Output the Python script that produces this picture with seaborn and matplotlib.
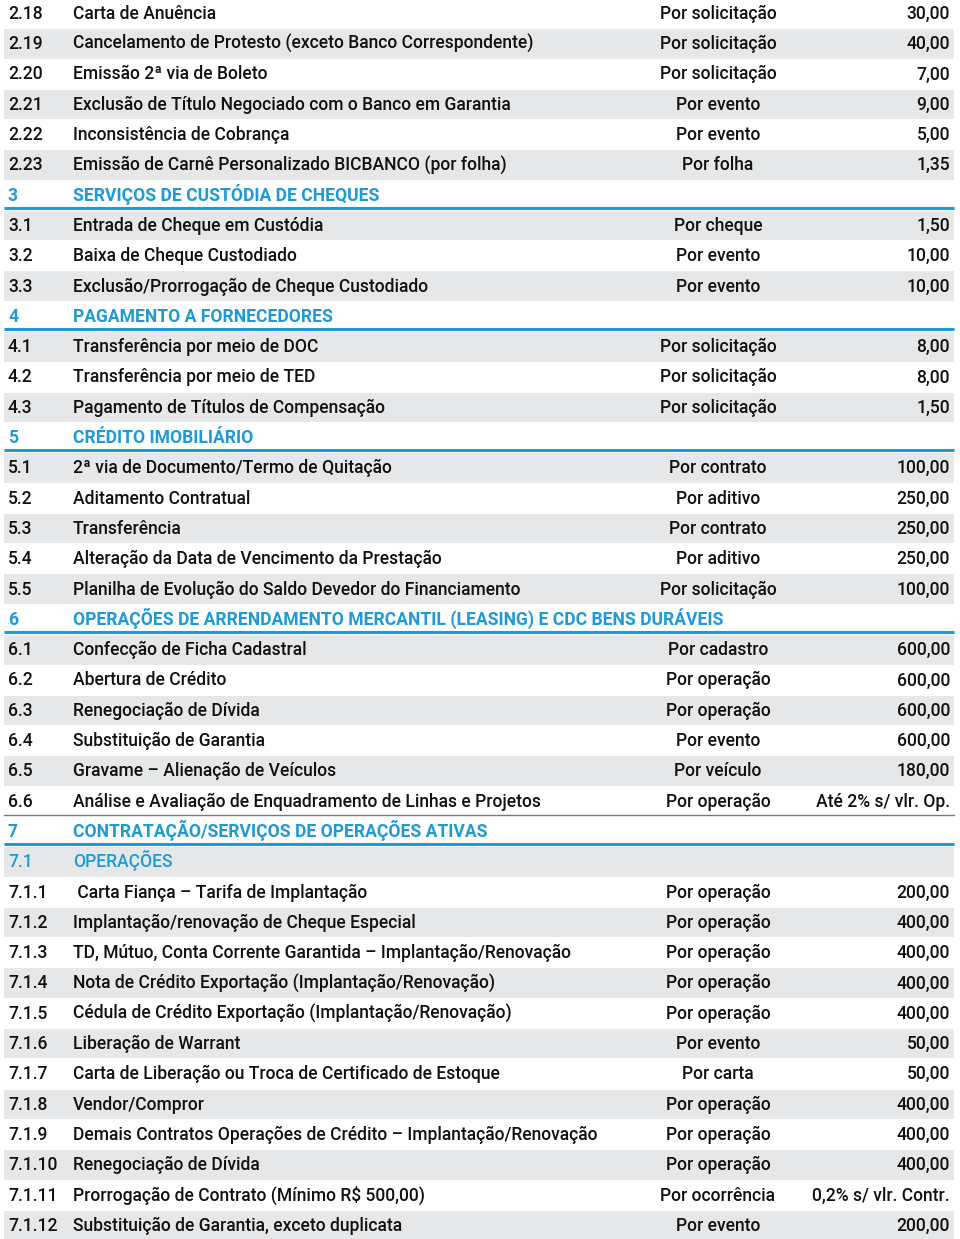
import matplotlib
matplotlib.use("Agg")
import matplotlib.pyplot as plt
import seaborn as sns
import pandas as pd

codes = ["2.18", "2.19", "2.20", "2.21", "2.22", "2.23",
         "3", "3.1", "3.2", "3.3",
         "4", "4.1", "4.2", "4.3",
         "5", "5.1", "5.2", "5.3", "5.4", "5.5",
         "6", "6.1", "6.2", "6.3", "6.4", "6.5", "6.6",
         "7", "7.1", "7.1.1", "7.1.2", "7.1.3", "7.1.4", "7.1.5", "7.1.6",
         "7.1.7", "7.1.8", "7.1.9", "7.1.10", "7.1.11", "7.1.12"]

descriptions = [
    "Carta de Anuência",
    "Cancelamento de Protesto (exceto Banco Correspondente)",
    "Emissão 2ª via de Boleto",
    "Exclusão de Título Negociado com o Banco em Garantia",
    "Inconsistência de Cobrança",
    "Emissão de Carnê Personalizado BICBANCO (por folha)",
    "SERVIÇOS DE CUSTÓDIA DE CHEQUES",
    "Entrada de Cheque em Custódia",
    "Baixa de Cheque Custodiado",
    "Exclusão/Prorrogação de Cheque Custodiado",
    "PAGAMENTO A FORNECEDORES",
    "Transferência por meio de DOC",
    "Transferência por meio de TED",
    "Pagamento de Títulos de Compensação",
    "CRÉDITO IMOBILIÁRIO",
    "2ª via de Documento/Termo de Quitação",
    "Aditamento Contratual",
    "Transferência",
    "Alteração da Data de Vencimento da Prestação",
    "Planilha de Evolução do Saldo Devedor do Financiamento",
    "OPERAÇÕES DE ARRENDAMENTO MERCANTIL (LEASING) E CDC BENS DURÁVEIS",
    "Confecção de Ficha Cadastral",
    "Abertura de Crédito",
    "Renegociação de Dívida",
    "Substituição de Garantia",
    "Gravame – Alienação de Veículos",
    "Análise e Avaliação de Enquadramento de Linhas e Projetos",
    "CONTRATAÇÃO/SERVIÇOS DE OPERAÇÕES ATIVAS",
    "OPERAÇÕES",
    " Carta Fiança – Tarifa de Implantação",
    "Implantação/renovação de Cheque Especial",
    "TD, Mútuo, Conta Corrente Garantida – Implantação/Renovação",
    "Nota de Crédito Exportação (Implantação/Renovação)",
    "Cédula de Crédito Exportação (Implantação/Renovação)",
    "Liberação de Warrant",
    "Carta de Liberação ou Troca de Certificado de Estoque",
    "Vendor/Compror",
    "Demais Contratos Operações de Crédito – Implantação/Renovação",
    "Renegociação de Dívida",
    "Prorrogação de Contrato (Mínimo R$ 500,00)",
    "Substituição de Garantia, exceto duplicata",
]

units = ["Por solicitação", "Por solicitação", "Por solicitação", "Por evento", "Por evento", "Por folha",
         "", "Por cheque", "Por evento", "Por evento",
         "", "Por solicitação", "Por solicitação", "Por solicitação",
         "", "Por contrato", "Por aditivo", "Por contrato", "Por aditivo", "Por solicitação",
         "", "Por cadastro", "Por operação", "Por operação", "Por evento", "Por veículo", "Por operação",
         "", "", "Por operação", "Por operação", "Por operação", "Por operação", "Por operação", "Por evento",
         "Por carta", "Por operação", "Por operação", "Por operação", "Por ocorrência", "Por evento"]

values = ["30,00", "40,00", "7,00", "9,00", "5,00", "1,35",
          "", "1,50", "10,00", "10,00",
          "", "8,00", "8,00", "1,50",
          "", "100,00", "250,00", "250,00", "250,00", "100,00",
          "", "600,00", "600,00", "600,00", "600,00", "180,00", "Até 2% s/ vlr. Op.",
          "", "", "200,00", "400,00", "400,00", "400,00", "400,00", "50,00",
          "50,00", "400,00", "400,00", "400,00", "0,2% s/ vlr. Contr.", "200,00"]

kinds = ["item"] * 6 + ["section"] + ["item"] * 3 + ["section"] + ["item"] * 3 + \
        ["section"] + ["item"] * 5 + ["section"] + ["item"] * 6 + ["section", "sub"] + ["item"] * 12

df = pd.DataFrame({"code": codes, "desc": descriptions, "unit": units,
                   "value": values, "kind": kinds})
df["row"] = range(len(df))

# alternate shading, restarting after each section header (section 2 continues from 2.1)
shade = []
count = 17
for k in kinds:
    if k == "section":
        shade.append(False)
        count = 0
    else:
        shade.append(count % 2 == 0)
        count += 1
df["shade"] = shade

W, H = 960, 1239
sns.set_theme(style="white")
FAMILY = ["Roboto", "Liberation Sans", "DejaVu Sans"]
plt.rcParams["font.family"] = FAMILY

fig = plt.figure(figsize=(W / 100, H / 100), dpi=100)
ax = fig.add_axes([0, 0, 1, 1])
ax.set_xlim(0, W)
ax.set_ylim(H, 0)
ax.axis("off")

REG = "medium"
renderer = fig.canvas.get_renderer()
def width_at(s, size, weight):
    t = ax.text(0, 0, s, fontsize=size, fontweight=weight)
    w = t.get_window_extent(renderer).width
    t.remove()
    return w

base = 20.0
limits = [
    ("Demais Contratos Operações de Crédito – Implantação/Renovação", REG, 533),
    ("Planilha de Evolução do Saldo Devedor do Financiamento", REG, 460),
    ("OPERAÇÕES DE ARRENDAMENTO MERCANTIL (LEASING) E CDC BENS DURÁVEIS", "bold", 655),
    ("0,2% s/ vlr. Contr.", REG, 142),
    ("Por ocorrência", REG, 116),
]
fs = min(base * lim / width_at(s, base, w) for s, w, lim in limits)

ROW_H = 30.3
Y0 = 12.5
df["y"] = Y0 + df["row"] * ROW_H
BASE_OFF = 0.36 * fs * 100 / 72   # baseline below row centre (half cap height)

BLUE = "#1f9ad6"
GRAY = "#e6e7e8"
TXT = "#111111"

shaded = df[df["shade"]]
ax.barh(shaded["y"] + 1, width=950, left=4, height=29.5, color=GRAY, linewidth=0, zorder=0)

VA = "baseline"
for _, r in df.iterrows():
    y = r["y"]
    yb = y + BASE_OFF
    if r["kind"] == "section":
        ax.text(8, yb, r["code"], fontsize=fs, color=BLUE, fontweight="bold", va=VA, ha="left")
        ax.text(73, yb, r["desc"], fontsize=fs, color=BLUE, fontweight="bold", va=VA, ha="left")
        ax.plot([4, 954], [y + 13.5, y + 13.5], color=BLUE, lw=2.2, solid_capstyle="butt", zorder=2)
    elif r["kind"] == "sub":
        ax.text(8, yb, r["code"], fontsize=fs, color=BLUE, fontweight=REG, va=VA, ha="left")
        ax.text(73, yb, r["desc"], fontsize=fs, color=BLUE, fontweight=REG, va=VA, ha="left")
    else:
        ax.text(8, yb, r["code"], fontsize=fs, color=TXT, fontweight=REG, va=VA, ha="left")
        ax.text(73, yb, r["desc"], fontsize=fs, color=TXT, fontweight=REG, va=VA, ha="left")
        ax.text(718, yb, r["unit"], fontsize=fs, color=TXT, fontweight=REG, va=VA, ha="center")
        ax.text(950, yb, r["value"], fontsize=fs, color=TXT, fontweight=REG, va=VA, ha="right")

# thin gray rule under the last row of section 6
y66 = df.loc[df["code"] == "6.6", "y"].iloc[0]
ax.plot([4, 954], [y66 + 15, y66 + 15], color="#7a7a7a", lw=1.0, zorder=2)

fig.savefig("out.png", dpi=100)
